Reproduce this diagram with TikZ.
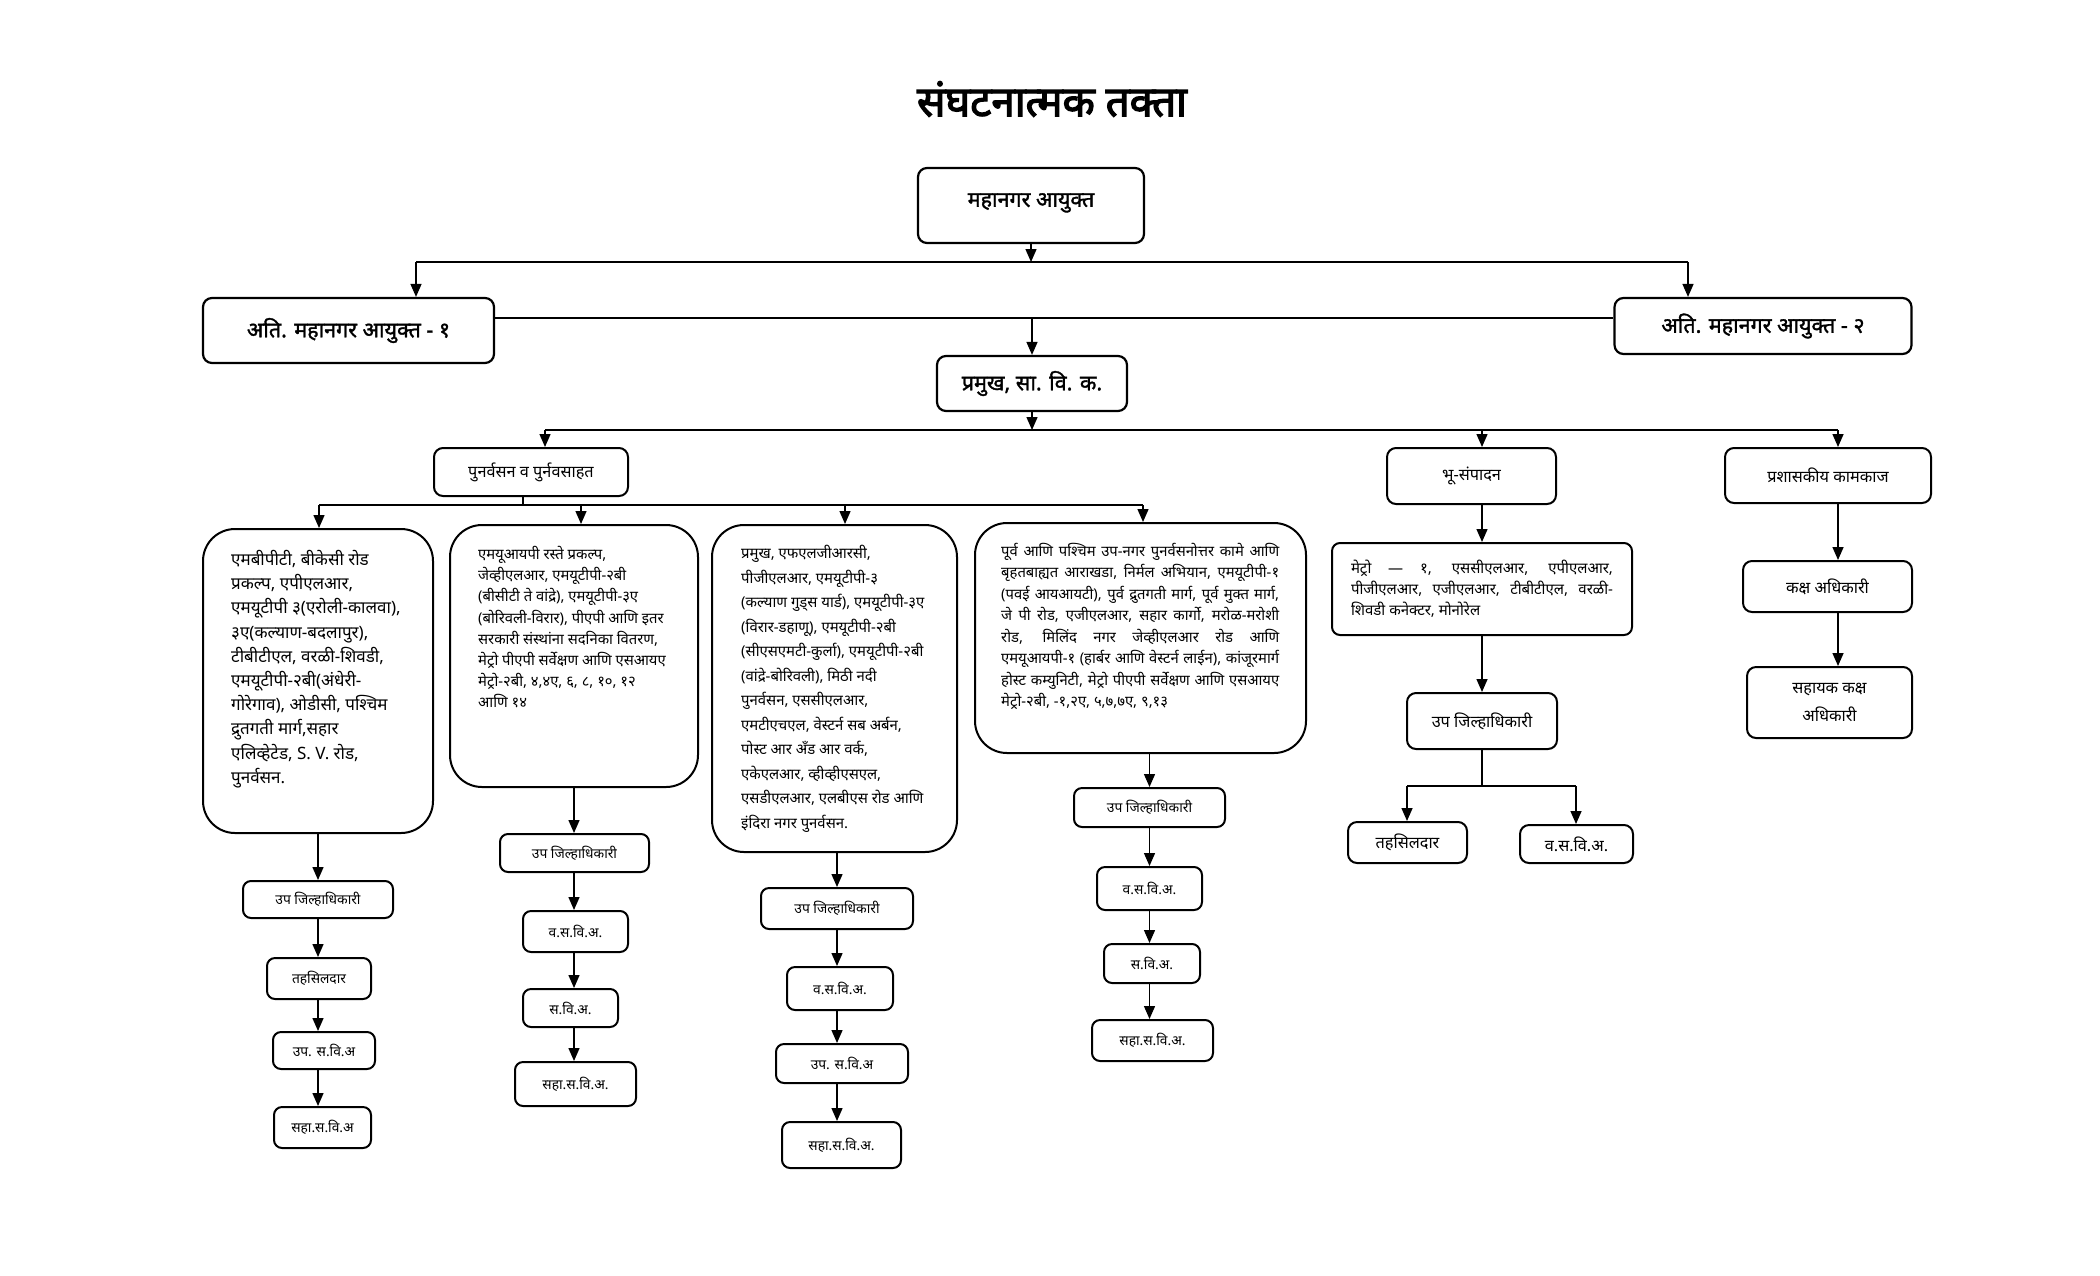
\documentclass[tikz,border=0pt]{standalone}
\usepackage{fontspec}
\setmainfont{Noto Sans}[Script=Devanagari]
\newfontfamily\titlef{Noto Sans}[Script=Devanagari,FakeBold=3]
\newfontfamily\topf{Noto Sans}[Script=Devanagari,FakeBold=1.5]
\usetikzlibrary{arrows.meta}
\newcommand{\jl}[2]{\makebox[#1][s]{#2}}
\begin{document}
\begin{tikzpicture}[x=1pt,y=-1pt,
  box/.style={draw, line width=2pt, rounded corners=8pt, inner sep=0pt, align=center, font=\fontsize{13.8}{16}\selectfont},
  topbox/.style={draw, line width=2.2pt, rounded corners=9pt, inner sep=0pt, align=center, font=\fontsize{21.5}{24}\topf},
  midbox/.style={draw, line width=2pt, rounded corners=9pt, inner sep=0pt, align=center, font=\fontsize{16.3}{28}\selectfont},
  big/.style={draw, line width=2pt, rounded corners=32pt, inner sep=0pt},
  txt/.style={inner sep=0pt, anchor=north west, align=left},
  arr/.style={line width=1.4pt, -{Triangle[width=11pt,length=13pt]}},
  ln/.style={line width=1.4pt}]
\fill[white] (0,0) rectangle (2100,1275);
\useasboundingbox (0,0) rectangle (2100,1275);

% title
\node[font=\fontsize{42}{46}\titlef] (title) at (1052,99) {संघटनात्मक तक्ता};

% top
\node[topbox, minimum width=226pt, minimum height=75pt] (mc) at (1031,205.5) {\raisebox{0pt}[\height][11pt]{महानगर आयुक्त}};
\node[topbox, minimum width=291pt, minimum height=65pt] (a1) at (348.5,330.5) {अति. महानगर आयुक्त - १};
\node[topbox, minimum width=297pt, minimum height=56pt] (a2) at (1763,326) {अति. महानगर आयुक्त - २};
\node[topbox, minimum width=190pt, minimum height=55pt] (pr) at (1032,383.5) {प्रमुख, सा. वि. क.};

% second level
\node[midbox, minimum width=194pt, minimum height=48pt] (pu) at (531,472) {पुनर्वसन व पुर्नवसाहत};
\node[midbox, minimum width=169pt, minimum height=56pt] (bh) at (1471.5,476) {भू-संपादन};
\node[midbox, minimum width=206pt, minimum height=55pt] (pa) at (1828,475.5) {प्रशासकीय कामकाज};
\node[midbox, minimum width=169pt, minimum height=51pt] (ka) at (1827.5,586.5) {कक्ष अधिकारी};
\node[midbox, minimum width=165pt, minimum height=71pt] (sk) at (1829.5,702.5) {सहायक कक्ष\\अधिकारी};

% land acquisition branch
\node[box, minimum width=300pt, minimum height=92pt, font=\fontsize{15}{21}\selectfont, align=left] (me) at (1482,589) {\jl{262pt}{मेट्रो — १, एससीएलआर, एपीएलआर,}\\\jl{262pt}{पीजीएलआर, एजीएलआर, टीबीटीएल, वरळी-}\\\makebox[262pt][l]{शिवडी कनेक्टर, मोनोरेल}};
\node[midbox, minimum width=150pt, minimum height=56pt] (bz) at (1482,721) {उप जिल्हाधिकारी};
\node[midbox, minimum width=119pt, minimum height=41pt] (bt) at (1407.5,842.5) {तहसिलदार};
\node[midbox, minimum width=113pt, minimum height=38pt] (bv) at (1576.5,844) {व.स.वि.अ.};

% big boxes
\node[big, minimum width=230pt, minimum height=304pt] (b1) at (318,681) {};
\node[txt, font=\fontsize{17}{24.2}\selectfont] (b1t) at (231,550) {एमबीपीटी, बीकेसी रोड\\प्रकल्प, एपीएलआर,\\एमयूटीपी ३(एरोली-कालवा),\\३ए(कल्याण-बदलापुर),\\टीबीटीएल, वरळी-शिवडी,\\एमयूटीपी-२बी(अंधेरी-\\गोरेगाव), ओडीसी, पश्चिम\\द्रुतगती  मार्ग,सहार\\एलिव्हेटेड, S. V. रोड,\\पुनर्वसन.};

\node[big, minimum width=248pt, minimum height=262pt] (b2) at (574,656) {};
\node[txt, font=\fontsize{14.8}{21.2}\selectfont] (b2t) at (478,546) {एमयूआयपी रस्ते प्रकल्प,\\जेव्हीएलआर, एमयूटीपी-२बी\\(बीसीटी ते वांद्रे), एमयूटीपी-३ए\\(बोरिवली-विरार), पीएपी आणि इतर\\सरकारी संस्थांना सदनिका वितरण,\\मेट्रो पीएपी सर्वेक्षण आणि एसआयए\\मेट्रो-२बी, ४,४ए, ६, ८, १०, १२\\आणि १४};

\node[big, minimum width=245pt, minimum height=327pt] (b3) at (834.5,688.5) {};
\node[txt, font=\fontsize{14.9}{24.5}\selectfont] (b3t) at (741,545) {प्रमुख, एफएलजीआरसी,\\पीजीएलआर, एमयूटीपी-३\\(कल्याण गुड्स यार्ड), एमयूटीपी-३ए\\(विरार-डहाणू), एमयूटीपी-२बी\\(सीएसएमटी-कुर्ला), एमयूटीपी-२बी\\(वांद्रे-बोरिवली), मिठी नदी\\पुनर्वसन, एससीएलआर,\\एमटीएचएल, वेस्टर्न सब अर्बन,\\पोस्ट आर अँड आर वर्क,\\एकेएलआर, व्हीव्हीएसएल,\\एसडीएलआर, एलबीएस रोड आणि\\इंदिरा नगर पुनर्वसन.};

\node[big, minimum width=331pt, minimum height=230pt] (b4) at (1140.5,638) {};
\node[txt, font=\fontsize{14.8}{21.5}\selectfont] (b4t) at (1001,543) {\jl{278pt}{पूर्व आणि पश्चिम उप-नगर पुनर्वसनोत्तर कामे आणि}\\\jl{278pt}{बृहतबाह्यत आराखडा, निर्मल अभियान, एमयूटीपी-१}\\\jl{278pt}{(पवई आयआयटी), पुर्व द्रुतगती मार्ग, पूर्व मुक्त मार्ग,}\\\jl{278pt}{जे पी रोड, एजीएलआर, सहार कार्गो, मरोळ-मरोशी}\\\jl{278pt}{रोड, मिलिंद नगर जेव्हीएलआर रोड आणि}\\\jl{278pt}{एमयूआयपी-१ (हार्बर आणि वेस्टर्न लाईन), कांजूरमार्ग}\\\jl{278pt}{होस्ट कम्युनिटी, मेट्रो पीएपी सर्वेक्षण आणि एसआयए}\\मेट्रो-२बी, -१,२ए, ५,७,७ए, ९,१३};

% chain 1
\node[box, minimum width=150pt, minimum height=37pt] (c1a) at (318,899.5) {उप जिल्हाधिकारी};
\node[box, minimum width=104pt, minimum height=41pt] (c1b) at (319,978.5) {तहसिलदार};
\node[box, minimum width=102pt, minimum height=37pt] (c1c) at (324,1050.5) {उप. स.वि.अ};
\node[box, minimum width=97pt, minimum height=41pt] (c1d) at (322.5,1127.5) {सहा.स.वि.अ};
% chain 2
\node[box, minimum width=149pt, minimum height=38pt] (c2a) at (574.5,853) {उप जिल्हाधिकारी};
\node[box, minimum width=105pt, minimum height=41pt] (c2b) at (575.5,931.5) {व.स.वि.अ.};
\node[box, minimum width=95pt, minimum height=38pt] (c2c) at (570.5,1008) {स.वि.अ.};
\node[box, minimum width=121pt, minimum height=44pt] (c2d) at (575.5,1084) {सहा.स.वि.अ.};
% chain 3
\node[box, minimum width=152pt, minimum height=41pt] (c3a) at (837,908.5) {उप जिल्हाधिकारी};
\node[box, minimum width=106pt, minimum height=43pt] (c3b) at (840,988.5) {व.स.वि.अ.};
\node[box, minimum width=132pt, minimum height=39pt] (c3c) at (842,1063.5) {उप. स.वि.अ};
\node[box, minimum width=119pt, minimum height=46pt] (c3d) at (841.5,1145) {सहा.स.वि.अ.};
% chain 4
\node[box, minimum width=151pt, minimum height=39pt] (c4a) at (1149.5,807.5) {उप जिल्हाधिकारी};
\node[box, minimum width=105pt, minimum height=43pt] (c4b) at (1149.5,888.5) {व.स.वि.अ.};
\node[box, minimum width=96pt, minimum height=39pt] (c4c) at (1152,963.5) {स.वि.अ.};
\node[box, minimum width=121pt, minimum height=41pt] (c4d) at (1152.5,1040.5) {सहा.स.वि.अ.};

% junction coordinates
\coordinate (t0) at (1031,262);
\coordinate (t1) at (416,262);
\coordinate (t2) at (1688,262);
\coordinate (j2) at (1032,318);
\coordinate (j3) at (1032,430);
\coordinate (p1) at (545,430);
\coordinate (p2) at (1482,430);
\coordinate (p3) at (1838,430);
\coordinate (q0) at (523,505);
\coordinate (q1) at (319,505);
\coordinate (q2) at (581,505);
\coordinate (q3) at (845,505);
\coordinate (q4) at (1143,505);
\coordinate (r0) at (1482,786);
\coordinate (r1) at (1407,786);
\coordinate (r2) at (1576,786);

% connectors top
\draw[arr] (t0 |- mc.south) -- (t0);
\draw[ln] (t1) -- (t2);
\draw[arr] (t1) -- (t1 |- a1.north);
\draw[arr] (t2) -- (t2 |- a2.north);
\draw[ln] (a1.east |- j2) -- (a2.west |- j2);
\draw[arr] (j2) -- (j2 |- pr.north);
\draw[arr] (pr.south) -- (j3);
\draw[ln] (p1) -- (p3);
\draw[arr] (p1) -- (p1 |- pu.north);
\draw[arr] (p2) -- (p2 |- bh.north);
\draw[arr] (p3) -- (p3 |- pa.north);
% rehab branch
\draw[ln] (q0 |- pu.south) -- (q0);
\draw[ln] (q1) -- (q4);
\draw[arr] (q1) -- (q1 |- b1.north);
\draw[arr] (q2) -- (q2 |- b2.north);
\draw[arr] (q3) -- (q3 |- b3.north);
\draw[arr] (q4) -- (q4 |- b4.north);
% chains
\draw[arr] (b1.south) -- (b1.south |- c1a.north);
\draw[arr] (c1a.south) -- (c1a.south |- c1b.north);
\draw[arr] (c1a.south |- c1b.south) -- (c1a.south |- c1c.north);
\draw[arr] (c1a.south |- c1c.south) -- (c1a.south |- c1d.north);
\draw[arr] (b2.south) -- (b2.south |- c2a.north);
\draw[arr] (b2.south |- c2a.south) -- (b2.south |- c2b.north);
\draw[arr] (b2.south |- c2b.south) -- (b2.south |- c2c.north);
\draw[arr] (b2.south |- c2c.south) -- (b2.south |- c2d.north);
\draw[arr] (c3a.north |- b3.south) -- (c3a.north);
\draw[arr] (c3a.south) -- (c3a.south |- c3b.north);
\draw[arr] (c3a.south |- c3b.south) -- (c3a.south |- c3c.north);
\draw[arr] (c3a.south |- c3c.south) -- (c3a.south |- c3d.north);
\draw[arr] (c4a.north |- b4.south) -- (c4a.north);
\draw[arr] (c4a.south) -- (c4a.south |- c4b.north);
\draw[arr] (c4a.south |- c4b.south) -- (c4a.south |- c4c.north);
\draw[arr] (c4a.south |- c4c.south) -- (c4a.south |- c4d.north);
% land branch
\draw[arr] (me.north |- bh.south) -- (me.north);
\draw[arr] (me.south) -- (bz.north);
\draw[ln] (bz.south) -- (r0);
\draw[ln] (r1) -- (r2);
\draw[arr] (r1) -- (r1 |- bt.north);
\draw[arr] (r2) -- (r2 |- bv.north);
% admin branch
\draw[arr] (p3 |- pa.south) -- (p3 |- ka.north);
\draw[arr] (p3 |- ka.south) -- (p3 |- sk.north);
\end{tikzpicture}
\end{document}
